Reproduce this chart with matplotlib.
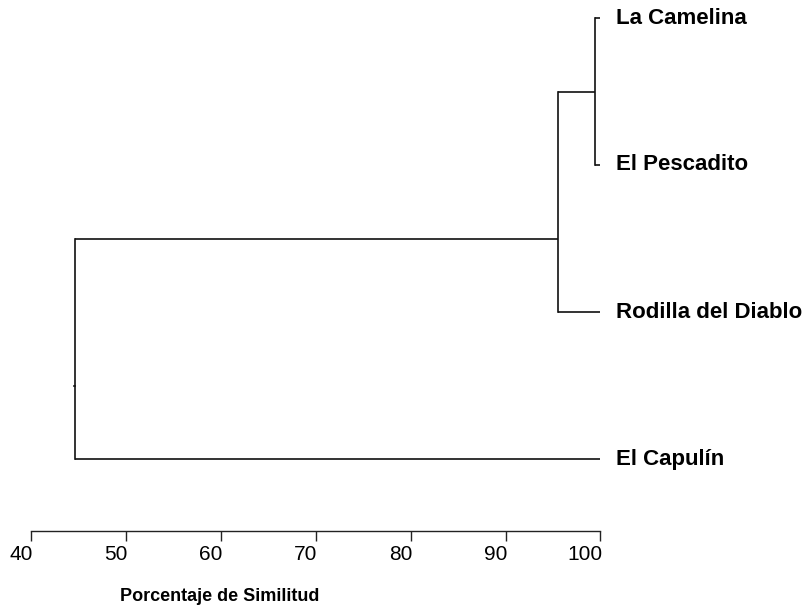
import matplotlib
matplotlib.use("Agg")
import matplotlib.pyplot as plt
from matplotlib import font_manager
import matplotlib.transforms as mtransforms

# Data
leaves = ["La Camelina", "El Pescadito", "Rodilla del Diablo", "El Capulín"]
leaf_pos = [0, 1, 2, 3]
# nodes: similarity, y of lower child, y of upper child, y where node joins its parent
node_sim = [99.4, 95.5, 44.6]
node_child_lo = [0, 0.5, 1.5]
node_child_hi = [1, 2, 3]
node_conn = [0.5, 1.5, 2.5]
node_child_lo_x = [100, 99.4, 95.5]
node_child_hi_x = [100, 100, 100]
xticks = [40, 50, 60, 70, 80, 90, 100]
xlabel = "Porcentaje de Similitud"

names = {f.name for f in font_manager.fontManager.ttflist}
if "Liberation Sans Narrow" in names:
    narrow = ["Liberation Sans Narrow", "Liberation Sans", "DejaVu Sans"]
    nstretch = "normal"
    tick_fs, lab_fs = 17, 15
else:
    narrow = ["Liberation Sans", "DejaVu Sans"]
    nstretch = "normal"
    tick_fs, lab_fs = 15, 13

fig = plt.figure(figsize=(8.06, 6.08), dpi=100)
ax = fig.add_axes([0, 0, 1, 1])
px = 9.49
x0 = 40 - 31 / px
ax.set_xlim(x0, x0 + 806 / px)
py = 147.0
ax.set_ylim((608 - 18) / py, -18 / py)

lc = "#111111"
lw = 1.2
for s, ylo, yhi, xlo, xhi in zip(node_sim, node_child_lo, node_child_hi,
                                 node_child_lo_x, node_child_hi_x):
    ax.plot([s, s], [ylo, yhi], color=lc, lw=lw, solid_capstyle="projecting")
    ax.plot([s, xlo], [ylo, ylo], color=lc, lw=lw, solid_capstyle="butt")
    ax.plot([s, xhi], [yhi, yhi], color=lc, lw=lw, solid_capstyle="butt")

# small mark on the root stem
ax.plot([node_sim[2] - 0.08, node_sim[2]], [node_conn[2], node_conn[2]], color=lc, lw=lw)

for name, y in zip(leaves, leaf_pos):
    ax.text(101.64, y, name, ha="left", va="center", fontsize=16,
            fontweight="bold", family=["Liberation Sans", "DejaVu Sans"])

# x axis
for sp in ["top", "left", "right"]:
    ax.spines[sp].set_visible(False)
ax.spines["bottom"].set_position(("data", (531 - 18) / py))
ax.spines["bottom"].set_bounds(40, 100)
ax.spines["bottom"].set_linewidth(1.0)
ax.spines["bottom"].set_color("#222222")
ax.set_xticks(xticks)
ax.set_xticklabels([str(t) for t in xticks])
ax.tick_params(axis="x", direction="out", length=7, width=1.0, color="#222222", pad=3)
offset = mtransforms.ScaledTranslation(2 / 100, 0, fig.dpi_scale_trans)
for lab in ax.get_xticklabels():
    lab.set_fontsize(tick_fs)
    lab.set_family(narrow)
    lab.set_fontstretch(nstretch)
    lab.set_horizontalalignment("right")
    lab.set_transform(lab.get_transform() + offset)
ax.set_yticks([])

ax.text(40 + (220 - 31) / px, (596 - 18) / py, xlabel, ha="center", va="center",
        fontsize=lab_fs, fontweight="bold", family=narrow)

fig.savefig("out.png", dpi=100)
